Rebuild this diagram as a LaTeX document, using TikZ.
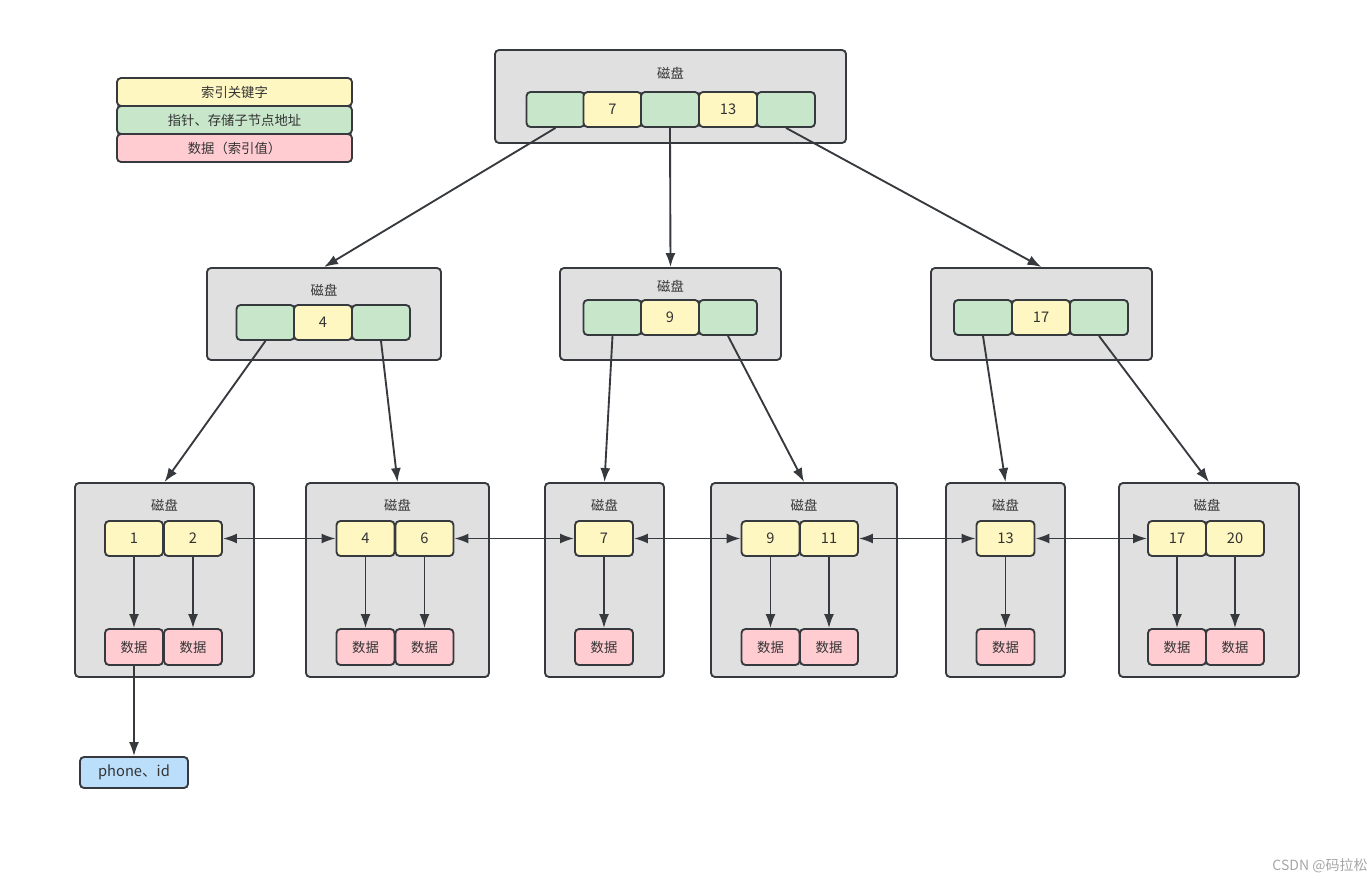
\documentclass[tikz,border=0pt]{standalone}
\usepackage{fontspec}
\setmainfont{Noto Sans CJK SC}
\usetikzlibrary{arrows.meta}
\definecolor{diskgray}{HTML}{E0E0E0}
\definecolor{keyyellow}{HTML}{FFF7C2}
\definecolor{ptrgreen}{HTML}{C8E6CA}
\definecolor{datapink}{HTML}{FFCCD2}
\definecolor{rowblue}{HTML}{BBDEFB}
\definecolor{edgedark}{HTML}{36393D}
\definecolor{textdark}{HTML}{333333}

\begin{document}
\begin{tikzpicture}[x=0.75pt,y=-0.75pt,
  >={Latex[length=10.5pt,width=7.5pt]}, ->, line width=1.4pt, color=edgedark,
  disk/.style 2 args={draw=edgedark, fill=diskgray, line width=1.4pt, rounded corners=3pt,
    minimum width=0.75pt*#1, minimum height=0.75pt*#2, inner sep=0pt},
  cell/.style={draw=edgedark, line width=1.4pt, rounded corners=3pt, minimum width=43.5pt,
    minimum height=26.25pt, inner sep=0pt, text=textdark, font=\fontsize{11}{13}\selectfont},
  keycell/.style={cell, fill=keyyellow},
  ptrcell/.style={cell, fill=ptrgreen},
  datacell/.style={cell, fill=datapink, minimum height=27pt, font=\fontsize{10}{12}\selectfont},
  legend/.style={cell, minimum width=176.25pt, minimum height=21pt, font=\fontsize{10}{12}\selectfont},
  disklabel/.style={text=textdark, font=\fontsize{10}{12}\selectfont, inner sep=0pt}]
   \useasboundingbox (0,0) rectangle (1372,884);
   \node[legend, fill=keyyellow] (lg1) at (234.5,92) {索引关键字};
   \node[legend, fill=ptrgreen] (lg2) at (234.5,120) {指针、存储子节点地址};
   \node[legend, fill=datapink] (lg3) at (234.5,148) {数据（索引值）};
   % root
   \node[disk={351}{93}] (r0) at (670.5,96.5) {};
   \node[disklabel] (r0lbl) at (670.5,73) {磁盘};
   \node[ptrcell] (rp1) at (555.5,109.5) {};
   \node[keycell] (rk7) at (612.5,109.5) {7};
   \node[ptrcell] (rp2) at (670,109.5) {};
   \node[keycell] (rk13) at (728,109.5) {13};
   \node[ptrcell] (rp3) at (786,109.5) {};
   % second level
   \node[disk={234}{92}] (a) at (324,314) {};
   \node[disklabel] (albl) at (324,290) {磁盘};
   \node[ptrcell] (ap1) at (265.5,322.5) {};
   \node[keycell] (ak4) at (323,322.5) {4};
   \node[ptrcell] (ap2) at (381,322.5) {};
   \node[disk={221}{92}] (b) at (670.5,314) {};
   \node[disklabel] (blbl) at (670.5,286) {磁盘};
   \node[ptrcell] (bp1) at (612.5,317.5) {};
   \node[keycell] (bk9) at (670,317.5) {9};
   \node[ptrcell] (bp2) at (728,317.5) {};
   \node[disk={221}{92}] (c) at (1041.5,314) {};
   \node[ptrcell] (cp1) at (983,317.5) {};
   \node[keycell] (ck17) at (1041,317.5) {17};
   \node[ptrcell] (cp2) at (1099,317.5) {};
   % leaves
   \node[disk={179}{194}] (l1) at (164.5,580) {};
   \node[disk={183}{194}] (l2) at (397.5,580) {};
   \node[disk={119}{194}] (l3) at (604.5,580) {};
   \node[disk={186}{194}] (l4) at (804,580) {};
   \node[disk={119}{194}] (l5) at (1005.5,580) {};
   \node[disk={180}{194}] (l6) at (1209,580) {};
   \node[disklabel] (l1lbl) at (164.5,505) {磁盘};
   \node[disklabel] (l2lbl) at (397.5,505) {磁盘};
   \node[disklabel] (l3lbl) at (604.5,505) {磁盘};
   \node[disklabel] (l4lbl) at (804,505) {磁盘};
   \node[disklabel] (l5lbl) at (1005.5,505) {磁盘};
   \node[disklabel] (l6lbl) at (1207,505) {磁盘};
   \node[keycell] (k1) at (134,538.5) {1};
   \node[keycell] (k2) at (193,538.5) {2};
   \node[keycell] (k4) at (365.5,538.5) {4};
   \node[keycell] (k6) at (424.5,538.5) {6};
   \node[keycell] (k7) at (604,538.5) {7};
   \node[keycell] (k9) at (770.5,538.5) {9};
   \node[keycell] (k11) at (829,538.5) {11};
   \node[keycell] (k13) at (1005.5,538.5) {13};
   \node[keycell] (k17) at (1177,538.5) {17};
   \node[keycell] (k20) at (1235,538.5) {20};
   \node[datacell] (d1) at (134,647) {数据};
   \node[datacell] (d2) at (193,647) {数据};
   \node[datacell] (d4) at (365.5,647) {数据};
   \node[datacell] (d6) at (424.5,647) {数据};
   \node[datacell] (d7) at (604,647) {数据};
   \node[datacell] (d9) at (770.5,647) {数据};
   \node[datacell] (d11) at (829,647) {数据};
   \node[datacell] (d13) at (1005.5,647) {数据};
   \node[datacell] (d17) at (1177,647) {数据};
   \node[datacell] (d20) at (1235,647) {数据};
   \node[cell, fill=rowblue, minimum width=81pt, minimum height=23.25pt] (row) at (134,772.5) {phone、id};
   \node[text=gray!70, font=\fontsize{10.5}{12}\selectfont] (mark) at (1320,866) {CSDN @码拉松};
   % pointers
   \draw (rp1.south) -- (a.north);
   \draw (rp2.south) -- (b.north);
   \draw (rp3.south) -- (c.north);
   \draw (ap1.south) -- (l1.north);
   \draw (ap2.south) -- (l2.north);
   \draw (bp1.south) -- (l3.north);
   \draw (bp2.south) -- (l4.north);
   \draw (cp1.south) -- (l5.north);
   \draw (cp2.south) -- (l6.north);
   \foreach \k in {1,2,4,6,7,9,11,13,17,20}
     \draw (k\k.south) -- (d\k.north);
   \draw (d1.south) -- (row.north);
   \draw[<->] (k2.east) -- (k4.west);
   \draw[<->] (k6.east) -- (k7.west);
   \draw[<->] (k7.east) -- (k9.west);
   \draw[<->] (k11.east) -- (k13.west);
   \draw[<->] (k13.east) -- (k17.west);
\end{tikzpicture}
\end{document}
